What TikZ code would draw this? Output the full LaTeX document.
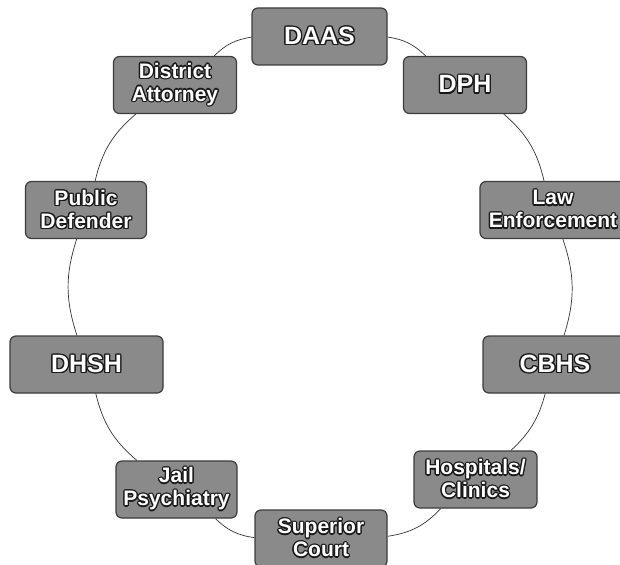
\documentclass[tikz,border=0pt]{standalone}
\usepackage{fontspec}
\setmainfont{Liberation Sans}
\usepackage{contour}
\contourlength{1.3pt}
\contournumber{12}
\definecolor{boxfill}{RGB}{138,138,138}
\definecolor{boxline}{RGB}{60,60,60}
\newcommand{\T}[1]{\contour{black!90}{\textcolor{white}{#1}}}
\begin{document}
\begin{tikzpicture}[x=1pt,y=-1pt,
 box/.style={draw=boxline,line width=1.2pt,fill=boxfill,rounded corners=6pt,inner sep=0pt,align=center,minimum height=57pt},
 big/.style={font=\bfseries\fontsize{25}{27}\selectfont},
 two/.style={font=\bfseries\fontsize{21}{23}\selectfont},
 link/.style={draw=black!80,line width=0.7pt}]
\useasboundingbox (0,0) rectangle (620,564);
\node[box,big,minimum width=135pt] (daas) at (319.5,36.5) {\T{DAAS}};
\node[box,big,minimum width=123pt] (dph) at (465,85) {\T{DPH}};
\node[box,two,minimum width=123pt] (da) at (175,85) {\T{District}\\\T{Attorney}};
\node[box,two,minimum width=121pt] (pd) at (86,210) {\T{Public}\\\T{Defender}};
\node[box,two,minimum width=146pt] (le) at (553,210) {\T{Law}\\\T{Enforcement}};
\node[box,big,minimum width=153pt] (dhsh) at (86.5,364.5) {\T{DHSH}};
\node[box,big,minimum width=144pt] (cbhs) at (555,364.5) {\T{CBHS}};
\node[box,two,minimum width=123pt] (hosp) at (475.5,479.5) {\T{Hospitals/}\\\T{Clinics}};
\node[box,two,minimum width=121pt] (jail) at (176.5,489.5) {\T{Jail}\\\T{Psychiatry}};
\node[box,two,minimum width=132pt] (sc) at (321,538.5) {\T{Superior}\\\T{Court}};
\draw[link] (daas) to[bend left=18] (dph);
\draw[link] (dph) to[bend left=18] (le);
\draw[link] (le) to[bend left=18] (cbhs);
\draw[link] (cbhs) to[bend left=16] (hosp);
\draw[link] (hosp) to[bend left=19] (sc);
\draw[link] (sc) to[bend left=18] (jail);
\draw[link] (jail) to[bend left=18] (dhsh);
\draw[link] (dhsh) to[bend left=18] (pd);
\draw[link] (pd) to[bend left=18] (da);
\draw[link] (da) to[bend left=18] (daas);
\end{tikzpicture}
\end{document}
